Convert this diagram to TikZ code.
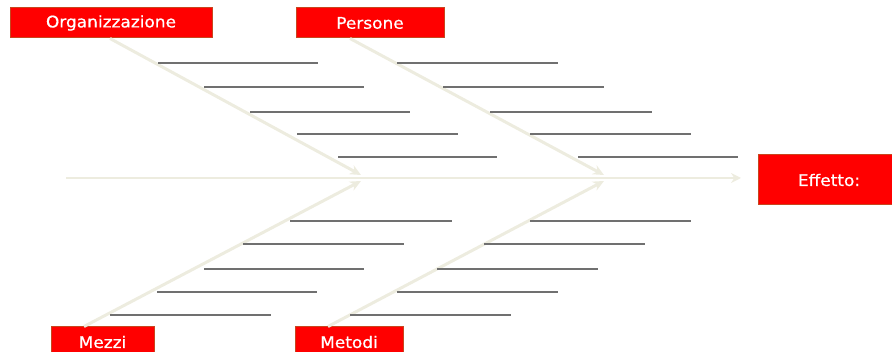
\documentclass[tikz,border=0pt]{standalone}
\usepackage{fontspec}
\setmainfont{DejaVu Sans}
\newfontfamily\boxfont{DejaVu Sans}[FakeStretch=1.06,FakeBold=0.6]
\usetikzlibrary{arrows.meta}
\definecolor{boxred}{HTML}{FF0000}
\definecolor{boxedge}{HTML}{C8461E}
\definecolor{bone}{HTML}{EDECDF}
\definecolor{rib}{HTML}{707070}
\tikzset{
  catbox/.style={draw=boxedge, line width=1pt, fill=boxred, text=white, font=\boxfont\fontsize{16}{19}\selectfont, inner sep=0pt},
  bonel/.style={draw=bone, line width=3pt, -{Stealth[length=11pt,width=10pt]}},
  spinel/.style={draw=bone, line width=2pt, -{Stealth[length=10pt,width=10pt]}},
  ribl/.style={draw=rib, line width=1.2pt},
}
\begin{document}
\begin{tikzpicture}[x=1pt,y=-1pt]
\useasboundingbox (0,0) rectangle (892,352);
% boxes
\node[catbox, minimum width=202pt, minimum height=30pt] (org) at (111,23) {Organizzazione};
\node[catbox, minimum width=148pt, minimum height=30pt] (pers) at (370,23) {Persone};
\node[catbox, minimum width=142pt, minimum height=50pt] (eff) at (829,180) {Effetto:};
\node[catbox, minimum width=103pt, minimum height=30pt] (mezzi) at (102.5,342) {Mezzi};
\node[catbox, minimum width=108pt, minimum height=30pt] (metodi) at (349,342) {Metodi};
% coordinates
\coordinate (sp0) at (66,178);
\coordinate (sp1) at (741,178);
\coordinate (o0) at (110,38.5);
\coordinate (o1) at (361,175);
\coordinate (p0) at (350,38.5);
\coordinate (p1) at (604,175);
\coordinate (m0) at (84,326.5);
\coordinate (m1) at (361,181);
\coordinate (t0) at (328,326.5);
\coordinate (t1) at (604,181);
% spine and bones
\draw[spinel] (sp0) -- (sp1);
\draw[bonel] (o0) -- (o1);
\draw[bonel] (p0) -- (p1);
\draw[bonel] (m0) -- (m1);
\draw[bonel] (t0) -- (t1);
% ribs upper
\foreach \y/\a/\b/\c/\d in {63/158/318/397/558, 87/204/364/443/604, 112/250/410/490/652, 134/297/458/530/691, 157/338/497/578/738}{
  \draw[ribl] (\a,\y) -- (\b,\y);
  \draw[ribl] (\c,\y) -- (\d,\y);
}
% ribs lower
\foreach \y/\a/\b/\c/\d in {221/290/452/530/691, 244/243/404/484/645, 269/204/364/437/598, 292/157/317/397/558, 315/110/271/350/511}{
  \draw[ribl] (\a,\y) -- (\b,\y);
  \draw[ribl] (\c,\y) -- (\d,\y);
}
\end{tikzpicture}
\end{document}
